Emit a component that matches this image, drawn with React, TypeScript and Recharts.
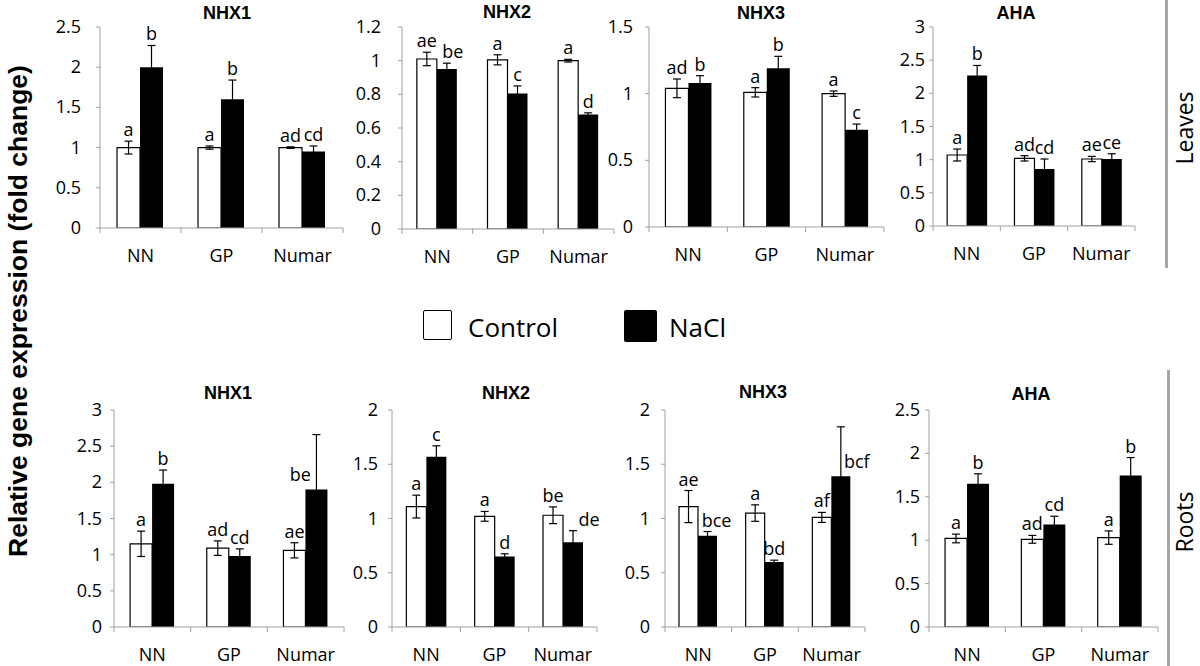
import React from 'react'
import { BarChart, Bar, XAxis, YAxis, ErrorBar, LabelList } from 'recharts'

const categories = ['NN', 'GP', 'Numar']

// Leaves
const leafNhx1Control = [1.0, 1.0, 1.0]
const leafNhx1ControlSd = [0.08, 0.02, 0.01]
const leafNhx1Nacl = [2.0, 1.6, 0.95]
const leafNhx1NaclSd = [0.27, 0.24, 0.07]
const leafNhx1ControlLetters = ['a', 'a', 'ad']
const leafNhx1NaclLetters = ['b', 'b', 'cd']

const leafNhx2Control = [1.01, 1.005, 1.0]
const leafNhx2ControlSd = [0.04, 0.03, 0.008]
const leafNhx2Nacl = [0.95, 0.805, 0.68]
const leafNhx2NaclSd = [0.035, 0.045, 0.01]
const leafNhx2ControlLetters = ['ae', 'a', 'a']
const leafNhx2NaclLetters = ['be', 'c', 'd']

const leafNhx3Control = [1.04, 1.01, 1.0]
const leafNhx3ControlSd = [0.07, 0.035, 0.02]
const leafNhx3Nacl = [1.08, 1.19, 0.73]
const leafNhx3NaclSd = [0.055, 0.09, 0.042]
const leafNhx3ControlLetters = ['ad', 'a', 'a']
const leafNhx3NaclLetters = ['b', 'b', 'c']

const leafAhaControl = [1.07, 1.02, 1.01]
const leafAhaControlSd = [0.09, 0.04, 0.04]
const leafAhaNacl = [2.27, 0.86, 1.01]
const leafAhaNaclSd = [0.15, 0.15, 0.08]
const leafAhaControlLetters = ['a', 'ad', 'ae']
const leafAhaNaclLetters = ['b', 'cd', 'ce']

// Roots
const rootNhx1Control = [1.15, 1.09, 1.06]
const rootNhx1ControlSd = [0.175, 0.1, 0.105]
const rootNhx1Nacl = [1.98, 0.98, 1.9]
const rootNhx1NaclSd = [0.19, 0.1, 0.76]
const rootNhx1ControlLetters = ['a', 'ad', 'ae']
const rootNhx1NaclLetters = ['b', 'cd', 'be']

const rootNhx2Control = [1.11, 1.02, 1.03]
const rootNhx2ControlSd = [0.105, 0.045, 0.077]
const rootNhx2Nacl = [1.57, 0.65, 0.78]
const rootNhx2NaclSd = [0.1, 0.025, 0.108]
const rootNhx2ControlLetters = ['a', 'a', 'be']
const rootNhx2NaclLetters = ['c', 'd', 'de']

const rootNhx3Control = [1.11, 1.05, 1.01]
const rootNhx3ControlSd = [0.148, 0.076, 0.046]
const rootNhx3Nacl = [0.84, 0.6, 1.39]
const rootNhx3NaclSd = [0.04, 0.016, 0.455]
const rootNhx3ControlLetters = ['ae', 'a', 'af']
const rootNhx3NaclLetters = ['bce', 'bd', 'bcf']

const rootAhaControl = [1.02, 1.01, 1.03]
const rootAhaControlSd = [0.05, 0.045, 0.077]
const rootAhaNacl = [1.65, 1.18, 1.745]
const rootAhaNaclSd = [0.115, 0.096, 0.207]
const rootAhaControlLetters = ['a', 'ad', 'a']
const rootAhaNaclLetters = ['b', 'cd', 'b']

const ticks25 = [0, 0.5, 1, 1.5, 2, 2.5]
const ticks12 = [0, 0.2, 0.4, 0.6, 0.8, 1, 1.2]
const ticks15 = [0, 0.5, 1, 1.5]
const ticks3 = [0, 0.5, 1, 1.5, 2, 2.5, 3]
const ticks2 = [0, 0.5, 1, 1.5, 2]

const FONT = '"Open Sans", sans-serif'
const BOLD = '"Liberation Sans", Arial, sans-serif'
const AXIS = '#a0a0a0'

// letters that sit beside a bar instead of straight above it
const letterNudge: Record<string, { dx?: number; atBar?: boolean; dy?: number }> = {
  'leafNHX2-nacl-0': { dx: 6 },
  'rootNHX1-nacl-2': { dx: -16, atBar: true, dy: 9 },
  'rootNHX2-nacl-2': { dx: 16 },
  'rootNHX3-nacl-0': { dx: 9 },
  'rootNHX3-nacl-2': { dx: 16, atBar: true, dy: 8 },
}

const panels = [
  { id: 'leafNHX1', title: 'NHX1', axisX: 100, top: 27, zero: 228, plotW: 243, yMax: 2.5, ticks: ticks25, gap: 15, titleX: 227, titleY: 13,
    control: leafNhx1Control, controlSd: leafNhx1ControlSd, nacl: leafNhx1Nacl, naclSd: leafNhx1NaclSd, cl: leafNhx1ControlLetters, nl: leafNhx1NaclLetters },
  { id: 'leafNHX2', title: 'NHX2', axisX: 402, top: 27, zero: 229, plotW: 212, yMax: 1.2, ticks: ticks12, gap: 17, titleX: 507, titleY: 12,
    control: leafNhx2Control, controlSd: leafNhx2ControlSd, nacl: leafNhx2Nacl, naclSd: leafNhx2NaclSd, cl: leafNhx2ControlLetters, nl: leafNhx2NaclLetters },
  { id: 'leafNHX3', title: 'NHX3', axisX: 649, top: 27, zero: 227, plotW: 235, yMax: 1.5, ticks: ticks15, gap: 12, titleX: 761, titleY: 13,
    control: leafNhx3Control, controlSd: leafNhx3ControlSd, nacl: leafNhx3Nacl, naclSd: leafNhx3NaclSd, cl: leafNhx3ControlLetters, nl: leafNhx3NaclLetters },
  { id: 'leafAHA', title: 'AHA', axisX: 933, top: 27, zero: 226, plotW: 202, yMax: 3, ticks: ticks3, gap: 4, titleX: 1016, titleY: 13,
    control: leafAhaControl, controlSd: leafAhaControlSd, nacl: leafAhaNacl, naclSd: leafAhaNaclSd, cl: leafAhaControlLetters, nl: leafAhaNaclLetters },
  { id: 'rootNHX1', title: 'NHX1', axisX: 114, top: 410, zero: 627, plotW: 230, yMax: 3, ticks: ticks3, gap: 8, titleX: 228, titleY: 393,
    control: rootNhx1Control, controlSd: rootNhx1ControlSd, nacl: rootNhx1Nacl, naclSd: rootNhx1NaclSd, cl: rootNhx1ControlLetters, nl: rootNhx1NaclLetters },
  { id: 'rootNHX2', title: 'NHX2', axisX: 392, top: 410, zero: 627, plotW: 205, yMax: 2, ticks: ticks2, gap: 10, titleX: 506, titleY: 393,
    control: rootNhx2Control, controlSd: rootNhx2ControlSd, nacl: rootNhx2Nacl, naclSd: rootNhx2NaclSd, cl: rootNhx2ControlLetters, nl: rootNhx2NaclLetters },
  { id: 'rootNHX3', title: 'NHX3', axisX: 665, top: 410, zero: 627, plotW: 200, yMax: 2, ticks: ticks2, gap: 11, titleX: 763, titleY: 392,
    control: rootNhx3Control, controlSd: rootNhx3ControlSd, nacl: rootNhx3Nacl, naclSd: rootNhx3NaclSd, cl: rootNhx3ControlLetters, nl: rootNhx3NaclLetters },
  { id: 'rootAHA', title: 'AHA', axisX: 929, top: 410, zero: 627, plotW: 229, yMax: 2.5, ticks: ticks25, gap: 5, titleX: 1031, titleY: 394,
    control: rootAhaControl, controlSd: rootAhaControlSd, nacl: rootAhaNacl, naclSd: rootAhaNaclSd, cl: rootAhaControlLetters, nl: rootAhaNaclLetters },
]

const edgeTicks = [0, 0.5, 1, 1.5, 2, 2.5, 3]

function EdgeTick(props: any) {
  const { x, y, payload } = props
  const v = payload.value
  if (Number.isInteger(v)) {
    return <line x1={x} x2={x} y1={y} y2={y + 5} stroke={AXIS} strokeWidth={1} />
  }
  return (
    <text x={x} y={y + 34} textAnchor="middle" fontSize={18} fontFamily={FONT} fill="#000">
      {categories[Math.floor(v)]}
    </text>
  )
}

function YTick(props: any) {
  const { x, y, payload } = props
  return (
    <text x={x} y={y} dy={6} textAnchor="end" fontSize={18} fontFamily={FONT} fill="#000">
      {payload.value}
    </text>
  )
}

const makeLetter = (panelId: string, series: string, vals: number[], sds: number[]) => (props: any) => {
  const { x, y, width, height, index, value } = props
  const perUnit = height / vals[index]
  const n = letterNudge[`${panelId}-${series}-${index}`]
  const cx = x + width / 2 + (n?.dx ?? 0)
  const ty = n?.atBar ? y - (n.dy ?? 8) : y - sds[index] * perUnit - 5
  return (
    <text x={cx} y={ty} textAnchor="middle" fontSize={18} fontFamily={FONT} fill="#000">
      {value}
    </text>
  )
}

function Panel({ p }: { p: (typeof panels)[number] }) {
  const yw = 60
  const mt = 30
  const xh = 45
  const rows = categories.map((cat, i) => ({
    cat,
    slot: i + 0.5,
    control: p.control[i],
    controlSd: p.controlSd[i],
    nacl: p.nacl[i],
    naclSd: p.naclSd[i],
    cl: p.cl[i],
    nl: p.nl[i],
  }))
  return (
    <>
      <div
        style={{
          position: 'absolute', left: p.titleX, top: p.titleY, transform: 'translate(-50%, -50%)',
          fontFamily: BOLD, fontWeight: 'bold', fontSize: 18, whiteSpace: 'nowrap', lineHeight: 1,
        }}
      >
        {p.title}
      </div>
      <div style={{ position: 'absolute', left: p.axisX - yw, top: p.top - mt }}>
        <BarChart
          width={yw + p.plotW + 10}
          height={mt + (p.zero - p.top) + xh}
          data={rows}
          margin={{ top: mt, right: 10, bottom: 0, left: 0 }}
          barCategoryGap="21%"
          barGap={0}
        >
          <XAxis dataKey="cat" xAxisId="c" hide height={0} />
          <XAxis
            xAxisId="n"
            dataKey="slot"
            type="number"
            domain={[0, 3]}
            ticks={edgeTicks}
            interval={0}
            allowDataOverflow
            height={xh}
            tickLine={false}
            tickSize={0}
            tickMargin={0}
            axisLine={{ stroke: AXIS }}
            tick={<EdgeTick />}
          />
          <YAxis
            width={yw}
            domain={[0, p.yMax]}
            ticks={p.ticks}
            interval={0}
            allowDataOverflow
            tickSize={4}
            tickMargin={p.gap}
            axisLine={{ stroke: AXIS }}
            tickLine={{ stroke: AXIS }}
            tick={<YTick />}
          />
          <Bar dataKey="control" xAxisId="c" fill="#fff" stroke="#000" strokeWidth={1.2} isAnimationActive={false}>
            <ErrorBar dataKey="controlSd" width={4} stroke="#000" strokeWidth={1.2} direction="y" />
            <LabelList dataKey="cl" content={makeLetter(p.id, 'control', p.control, p.controlSd)} />
          </Bar>
          <Bar dataKey="nacl" xAxisId="c" fill="#000" isAnimationActive={false}>
            <ErrorBar dataKey="naclSd" width={4} stroke="#000" strokeWidth={1.2} direction="y" />
            <LabelList dataKey="nl" content={makeLetter(p.id, 'nacl', p.nacl, p.naclSd)} />
          </Bar>
        </BarChart>
      </div>
    </>
  )
}

export default function App() {
  return (
    <div style={{ position: 'absolute', left: 0, top: 0, width: 1200, height: 666, background: '#fff', overflow: 'hidden' }}>
      {panels.map((p) => (
        <Panel key={p.id} p={p} />
      ))}

      {/* shared y title */}
      <div
        style={{
          position: 'absolute', left: 18, top: 311, transform: 'translate(-50%, -50%) rotate(-90deg)',
          fontFamily: BOLD, fontWeight: 'bold', fontSize: 26.5, whiteSpace: 'nowrap', lineHeight: 1,
        }}
      >
        Relative gene expression (fold change)
      </div>

      {/* legend */}
      <div style={{ position: 'absolute', left: 423, top: 310, width: 29, height: 30, border: '1.5px solid #000', boxSizing: 'border-box', borderRadius: 2 }} />
      <div style={{ position: 'absolute', left: 468, top: 327, transform: 'translateY(-50%)', fontFamily: FONT, fontSize: 26, lineHeight: 1 }}>
        Control
      </div>
      <div style={{ position: 'absolute', left: 624, top: 310, width: 33, height: 32, background: '#000', borderRadius: 2 }} />
      <div style={{ position: 'absolute', left: 669, top: 327, transform: 'translateY(-50%)', fontFamily: FONT, fontSize: 26, lineHeight: 1 }}>
        NaCl
      </div>

      {/* side labels */}
      <div style={{ position: 'absolute', left: 1165, top: 0, width: 3, height: 268, background: '#a6a6a6' }} />
      <div style={{ position: 'absolute', left: 1167, top: 370, width: 3, height: 296, background: '#a6a6a6' }} />
      <div
        style={{
          position: 'absolute', left: 1184, top: 128, transform: 'translate(-50%, -50%) rotate(-90deg)',
          fontFamily: FONT, fontSize: 23, whiteSpace: 'nowrap', lineHeight: 1,
        }}
      >
        Leaves
      </div>
      <div
        style={{
          position: 'absolute', left: 1184, top: 522, transform: 'translate(-50%, -50%) rotate(-90deg)',
          fontFamily: FONT, fontSize: 23, whiteSpace: 'nowrap', lineHeight: 1,
        }}
      >
        Roots
      </div>
    </div>
  )
}
